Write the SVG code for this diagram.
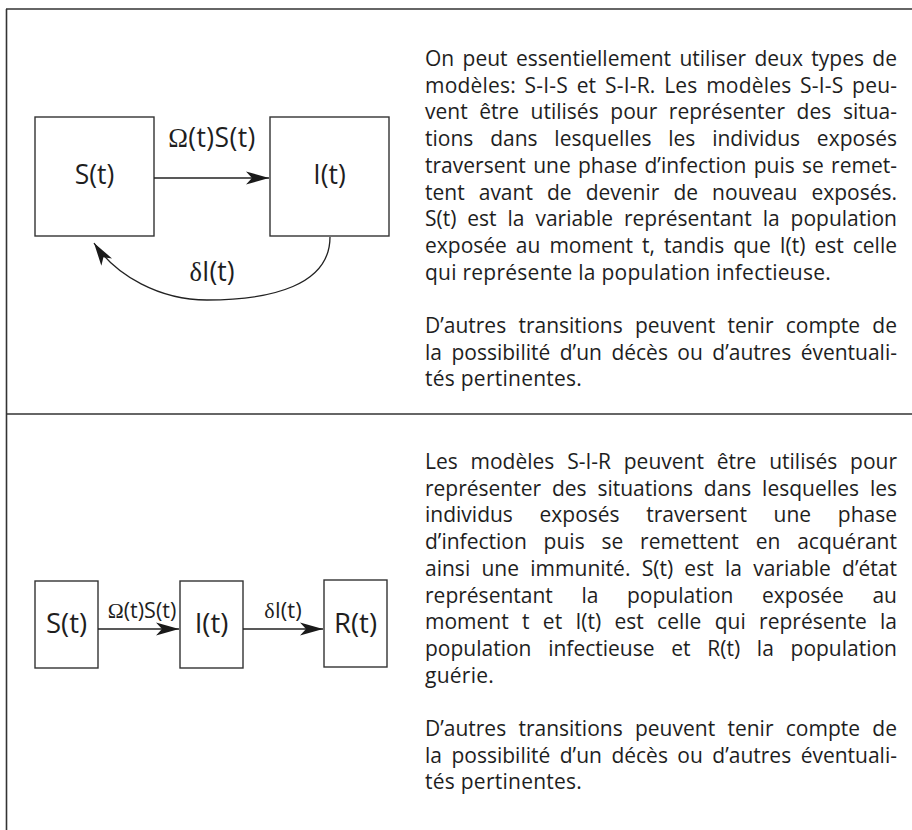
<svg xmlns="http://www.w3.org/2000/svg" width="912" height="830" viewBox="0 0 912 830">
<style>
.frame{stroke:#333;stroke-width:1.6;fill:none}
.box{fill:#fff;stroke:#333;stroke-width:1.4}
.edge{fill:none;stroke:#222;stroke-width:1.3}
.lbl{font-family:"Open Sans","Liberation Sans",sans-serif;fill:#1e1e1e;text-anchor:middle}
.sym{font-family:"Liberation Serif","DejaVu Serif",serif}
.body{font-family:"Open Sans","Liberation Sans",sans-serif;font-size:21px;fill:#1e1e1e}
</style>
<defs>
<marker id="ah" markerWidth="24" markerHeight="14" refX="23" refY="7" orient="auto" markerUnits="userSpaceOnUse" viewBox="0 0 24 14">
<path d="M0,0.5 L23,7 L0,13.5 L6,7 Z" fill="#1a1a1a"/>
</marker>
</defs>
<g id="frame">
<line class="frame" x1="6" y1="9" x2="912" y2="9"/>
<line class="frame" x1="6.5" y1="9" x2="6.5" y2="830"/>
<line class="frame" x1="6" y1="414" x2="912" y2="414"/>
</g>
<g id="sis-S"><rect class="box" x="35" y="117" width="119" height="119"/><text class="lbl" x="94.5" y="184" font-size="26.5">S(t)</text></g>
<g id="sis-I"><rect class="box" x="270" y="117" width="119" height="119"/><text class="lbl" x="329.5" y="184" font-size="26.5">I(t)</text></g>
<g id="sir-S"><rect class="box" x="35" y="581" width="63" height="87"/><text class="lbl" x="66.5" y="633" font-size="27.5">S(t)</text></g>
<g id="sir-I"><rect class="box" x="180" y="581" width="63" height="87"/><text class="lbl" x="211.5" y="633" font-size="27.5">I(t)</text></g>
<g id="sir-R"><rect class="box" x="324" y="580" width="63" height="87"/><text class="lbl" x="355.5" y="633" font-size="27.5">R(t)</text></g>
<g id="connectors">
<line class="edge" x1="154" y1="178" x2="269" y2="178" marker-end="url(#ah)"/>
<path class="edge" d="M330,237 C330,285 272,300 207,300 C160,300 116,276 94,243" marker-end="url(#ah)"/>
<line class="edge" x1="98" y1="629" x2="179" y2="629" marker-end="url(#ah)"/>
<line class="edge" x1="243" y1="629" x2="323" y2="629" marker-end="url(#ah)"/>
<text class="lbl" x="212" y="147" font-size="26.5" letter-spacing="0.4"><tspan class="sym">Ω</tspan>(t)S(t)</text>
<text class="lbl" x="212" y="281" font-size="26.5"><tspan class="sym">δ</tspan>I(t)</text>
<text class="lbl" x="142" y="618" font-size="21.5"><tspan class="sym">Ω</tspan>(t)S(t)</text>
<text class="lbl" x="283" y="618" font-size="22"><tspan class="sym">δ</tspan>I(t)</text>
</g>
<g id="text-sis" class="body">
<text x="425" y="66" word-spacing="2.9" textLength="472" lengthAdjust="spacing">On peut essentiellement utiliser deux types de</text>
<text x="425" y="92.7" word-spacing="3" textLength="472" lengthAdjust="spacing">modèles: S-I-S et S-I-R. Les modèles S-I-S peu-</text>
<text x="425" y="119.4" word-spacing="6.2" textLength="472" lengthAdjust="spacing">vent être utilisés pour représenter des situa-</text>
<text x="425" y="146.1" word-spacing="11.3" textLength="472" lengthAdjust="spacing">tions dans lesquelles les individus exposés</text>
<text x="425" y="172.8" word-spacing="1.8" textLength="472" lengthAdjust="spacing">traversent une phase d’infection puis se remet-</text>
<text x="425" y="199.5" word-spacing="8.6" textLength="472" lengthAdjust="spacing">tent avant de devenir de nouveau exposés.</text>
<text x="425" y="226.2" word-spacing="5.5" textLength="472" lengthAdjust="spacing">S(t) est la variable représentant la population</text>
<text x="425" y="252.9" word-spacing="3.5" textLength="472" lengthAdjust="spacing">exposée au moment t, tandis que I(t) est celle</text>
<text x="425" y="279.6" letter-spacing="0.25">qui représente la population infectieuse.</text>
<text x="425" y="333" word-spacing="6.9" textLength="472" lengthAdjust="spacing">D’autres transitions peuvent tenir compte de</text>
<text x="425" y="359.7" word-spacing="4" textLength="472" lengthAdjust="spacing">la possibilité d’un décès ou d’autres éventuali-</text>
<text x="425" y="386.4" letter-spacing="0.25">tés pertinentes.</text>
</g>
<g id="text-sir" class="body">
<text x="425" y="469" word-spacing="7.3" textLength="472" lengthAdjust="spacing">Les modèles S-I-R peuvent être utilisés pour</text>
<text x="425" y="495.7" word-spacing="5.4" textLength="472" lengthAdjust="spacing">représenter des situations dans lesquelles les</text>
<text x="425" y="522.4" word-spacing="21.2" textLength="472" lengthAdjust="spacing">individus exposés traversent une phase</text>
<text x="425" y="549.1" word-spacing="11.4" textLength="472" lengthAdjust="spacing">d’infection puis se remettent en acquérant</text>
<text x="425" y="575.8" word-spacing="5.8" textLength="472" lengthAdjust="spacing">ainsi une immunité. S(t) est la variable d’état</text>
<text x="425" y="602.5" word-spacing="23.1" textLength="472" lengthAdjust="spacing">représentant la population exposée au</text>
<text x="425" y="629.2" word-spacing="7.8" textLength="472" lengthAdjust="spacing">moment t et I(t) est celle qui représente la</text>
<text x="425" y="655.9" word-spacing="11.3" textLength="472" lengthAdjust="spacing">population infectieuse et R(t) la population</text>
<text x="425" y="682.6" letter-spacing="0.25">guérie.</text>
<text x="425" y="736" word-spacing="6.9" textLength="472" lengthAdjust="spacing">D’autres transitions peuvent tenir compte de</text>
<text x="425" y="762.7" word-spacing="4" textLength="472" lengthAdjust="spacing">la possibilité d’un décès ou d’autres éventuali-</text>
<text x="425" y="789.4" letter-spacing="0.25">tés pertinentes.</text>
</g>
</svg>
